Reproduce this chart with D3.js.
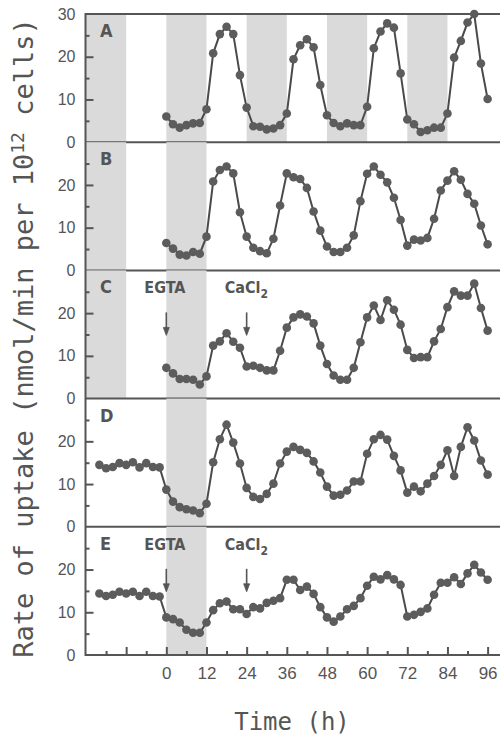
<!DOCTYPE html>
<html><head><meta charset="utf-8">
<script src="https://cdn.jsdelivr.net/npm/d3@7"></script>
<style>
html,body{margin:0;padding:0;background:#fff;}
svg{display:block;}
</style></head>
<body>
<svg id="chart" width="500" height="736"></svg>
<script>
// ---- data ----
const panelLabels = ["A","B","C","D","E"];
const timesMain = d3.range(0, 97, 2);          // 0..96 every 2 h
const timesLong = d3.range(-20, 97, 2);        // -20..96 every 2 h
const valuesA = [6.0,4.2,3.4,4.0,4.4,4.5,7.7,20.8,25.3,27.0,25.3,15.7,8.1,3.75,3.6,3.0,3.2,4.0,6.7,19.4,22.7,24.1,22.2,13.4,6.3,4.5,3.75,4.4,4.0,4.0,8.3,22.0,25.9,27.8,26.8,16.1,5.3,4.2,2.4,2.8,3.4,3.4,6.7,19.8,23.7,28.0,30.0,18.4,10.1];
const valuesB = [6.4,5.1,3.7,3.5,4.3,3.9,7.9,20.8,23.5,24.3,22.7,13.6,7.9,5.3,4.5,4.0,7.4,15.2,22.7,21.8,21.4,19.3,13.8,9.3,5.6,4.3,4.3,5.3,8.2,16.2,22.6,24.3,22.4,20.6,17.0,11.8,5.8,7.2,7.0,7.6,12.1,18.7,21.0,23.2,21.2,17.9,15.6,10.5,6.1];
const valuesC = [7.2,5.9,4.6,4.6,4.4,3.3,5.2,12.4,13.4,15.3,13.3,11.9,7.5,7.7,7.2,6.6,6.6,11.2,16.6,19.0,19.7,19.2,17.6,12.4,8.1,5.4,4.4,4.4,7.2,13.2,19.0,21.8,18.4,23.0,20.8,17.3,11.4,9.5,9.7,9.7,13.4,16.3,21.4,25.1,24.1,24.1,26.9,21.2,15.9];
const valuesD = [14.5,13.7,14.0,14.9,14.5,15.1,13.9,14.9,14.0,13.9,8.7,5.9,4.6,4.1,3.8,3.2,5.4,15.1,20.5,23.9,19.7,14.8,9.1,7.0,6.5,7.7,10.1,14.8,17.6,18.7,18.0,17.3,15.3,12.7,9.4,7.3,7.5,8.5,10.6,10.6,17.1,20.5,21.5,20.4,16.6,13.2,8.0,9.4,8.3,10.1,11.9,14.5,17.9,11.9,18.7,23.3,20.2,15.5,12.2];
const valuesE = [14.4,13.8,14.1,14.8,14.4,14.8,13.8,14.8,13.8,13.7,8.8,8.4,7.6,5.9,5.2,5.2,7.6,10.5,12.1,12.5,10.7,10.7,9.6,11.2,10.9,12.2,12.7,13.3,17.6,17.6,15.2,16.0,14.3,11.2,8.8,7.8,9.0,10.7,11.5,13.3,16.2,18.3,17.7,18.7,17.7,16.4,9.0,9.4,10.1,10.9,14.1,16.9,16.9,18.2,16.6,19.1,21.1,19.3,17.6];
const darkA = [[-24,-12],[0,12],[24,36],[48,60],[72,84]];
const darkBC = [[-24,-12],[0,12]];
const darkDE = [[0,12]];
const xTickLabels = [0,12,24,36,48,60,72,84,96];
const yTickLabels = [0,10,20,30];
const yMinorTicks = [5,15,25];
const xMinorTicks = [-18,-6,6,18,30,42,54,66,78,90];
const xMajorTicks = [-12,0,12,24,36,48,60,72,84,96];
const treatmentLabels = ["EGTA","CaCl"];
const treatmentTimes = [0,24];
const yTitle = "Rate of uptake (nmol/min per 10";
const yTitleSup = "12";
const yTitleEnd = " cells)";
const xTitle = "Time (h)";

const panels = [
  {label:"A", t:timesMain, v:valuesA, dark:darkA, arrows:false},
  {label:"B", t:timesMain, v:valuesB, dark:darkBC, arrows:false},
  {label:"C", t:timesMain, v:valuesC, dark:darkBC, arrows:true},
  {label:"D", t:timesLong, v:valuesD, dark:darkDE, arrows:false},
  {label:"E", t:timesLong, v:valuesE, dark:darkDE, arrows:true}
];

// ---- layout ----
const ink = "#555";
const svg = d3.select("#chart");
const left = 85.5, right = 501.5;
const top0 = 14, panelH = 128.2;
const x = d3.scaleLinear().domain([-24, 100]).range([86, 501]);
const labelFont = "'DejaVu Sans Condensed','Liberation Sans Narrow',sans-serif";

panels.forEach((p, i) => {
  const pt = top0 + i*panelH;
  const y = d3.scaleLinear().domain([0,30]).range([pt+panelH, pt]);
  const g = svg.append("g");
  // shading
  g.selectAll("rect.dark").data(p.dark).enter().append("rect")
    .attr("x", d => x(d[0])).attr("width", d => x(d[1]) - x(d[0]))
    .attr("y", pt).attr("height", panelH).attr("fill", "#dadada");
  // left axis major
  const labels = i === 0 ? yTickLabels : yTickLabels.slice(0,3);
  const ax = g.append("g").attr("transform", `translate(${left},0)`)
    .call(d3.axisLeft(y).tickValues(labels.concat([10,20]).filter((v,k,a)=>a.indexOf(v)===k))
      .tickSize(-8).tickPadding(10).tickFormat(d => d));
  ax.select(".domain").remove();
  ax.selectAll("line").attr("stroke", ink).attr("stroke-width", 2)
    .filter(d => d===0 || d===30).remove();
  ax.selectAll("text").attr("font-family","'Liberation Sans', Arial, sans-serif")
    .attr("font-size", 16).attr("fill", ink);
  const axm = g.append("g").attr("transform", `translate(${left},0)`)
    .call(d3.axisLeft(y).tickValues(yMinorTicks).tickSize(-4).tickFormat(""));
  axm.select(".domain").remove();
  axm.selectAll("line").attr("stroke", ink).attr("stroke-width", 2);
  // horizontal baseline (panel bottom)
  g.append("line").attr("x1", left).attr("x2", right)
    .attr("y1", y(0)).attr("y2", y(0)).attr("stroke", ink).attr("stroke-width", 2);
  if (i === 0) g.append("line").attr("x1", left).attr("x2", right)
    .attr("y1", y(30)).attr("y2", y(30)).attr("stroke", ink).attr("stroke-width", 2);
  // data
  const pts = p.t.map((t, k) => [t, p.v[k]]);
  g.append("path").datum(pts)
    .attr("d", d3.line().x(d => x(d[0])).y(d => y(d[1])))
    .attr("fill","none").attr("stroke","#4a4a4a").attr("stroke-width",2);
  g.selectAll("circle").data(pts).enter().append("circle")
    .attr("cx", d => x(d[0])).attr("cy", d => y(d[1])).attr("r", 4.3)
    .attr("fill", "#5c5c5c");
  // panel letter
  g.append("text").attr("x", 100).attr("y", pt + 23).text(p.label)
    .attr("font-family", labelFont)
    .attr("font-weight","bold").attr("font-size", 18).attr("fill", ink);
  if (p.arrows) {
    treatmentTimes.forEach((tt, k) => {
      const tx = g.append("text").attr("y", pt + 23)
        .attr("font-family", labelFont)
        .attr("font-weight","bold").attr("font-size", 16).attr("fill", ink);
      tx.attr("x", x(tt) - 22).text(treatmentLabels[k]);
      if (k === 1) tx.append("tspan").attr("dy", 5).attr("font-size", 12).text("2");
      const ax0 = x(tt), y0 = pt + 42, y1 = pt + 65;
      g.append("line").attr("x1", ax0).attr("x2", ax0)
        .attr("y1", y0).attr("y2", y1 - 2)
        .attr("stroke", ink).attr("stroke-width", 1.6);
      g.append("path")
        .attr("d", `M${ax0-3},${y1-8} L${ax0},${y1} L${ax0+3},${y1-8} Z`)
        .attr("fill", ink).attr("stroke", ink).attr("stroke-width", 0.8);
    });
  }
});

// left vertical axis line
svg.append("line").attr("x1", left).attr("x2", left)
  .attr("y1", top0 - 1).attr("y2", top0 + 5*panelH + 1).attr("stroke", ink).attr("stroke-width", 2);

// bottom axis
const yb = top0 + 5*panelH;
const bx = svg.append("g").attr("transform", `translate(0,${yb})`)
  .call(d3.axisBottom(x).tickValues(xMajorTicks).tickSize(-8).tickPadding(12)
    .tickFormat(d => xTickLabels.includes(d) ? d : ""));
bx.select(".domain").remove();
bx.selectAll("line").attr("stroke", ink).attr("stroke-width", 2);
bx.selectAll("text").attr("font-family","'Liberation Sans', Arial, sans-serif")
  .attr("font-size", 17).attr("fill", ink);
const bxm = svg.append("g").attr("transform", `translate(0,${yb})`)
  .call(d3.axisBottom(x).tickValues(xMinorTicks).tickSize(-4).tickFormat(""));
bxm.select(".domain").remove();
bxm.selectAll("line").attr("stroke", ink).attr("stroke-width", 2);

// titles
svg.append("text").attr("x", 292).attr("y", 730).attr("text-anchor","middle")
  .attr("font-family","'DejaVu Sans Mono', monospace").attr("font-size", 24)
  .attr("fill", ink).text(xTitle);
const yt = svg.append("text").attr("transform","translate(33,338) rotate(-90)")
  .attr("text-anchor","middle").attr("font-family","'DejaVu Sans Mono', monospace")
  .attr("font-size", 27).attr("fill", ink);
yt.append("tspan").text(yTitle);
yt.append("tspan").attr("dy", -9).attr("font-size", 18).text(yTitleSup);
yt.append("tspan").attr("dy", 9).text(yTitleEnd);
</script>
</body></html>
